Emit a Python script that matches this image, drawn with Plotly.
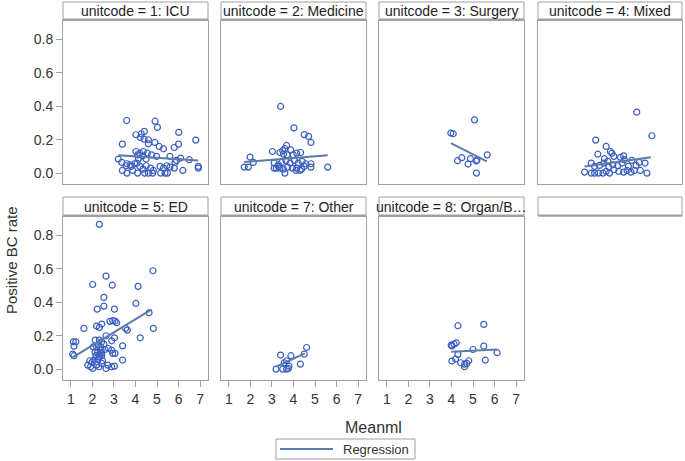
import plotly.graph_objects as go

# ── Data ─────────────────────────────────────────────────────────
panel_titles = ["unitcode = 1: ICU", "unitcode = 2: Medicine", "unitcode = 3: Surgery",
                "unitcode = 4: Mixed", "unitcode = 5: ED", "unitcode = 7: Other",
                "unitcode = 8: Organ/B…", ""]

icu_x = [3.59, 4.91, 5.02, 4.41, 4.27, 4.02, 6.01, 6.8, 3.39, 4.22, 4.4, 4.6, 4.6, 4.9, 5.1,
         5.3, 5.8, 6.0, 4.02, 4.2, 4.36, 4.55, 4.1, 4.33, 4.75, 4.98, 5.6, 6.1, 6.5, 3.2,
         3.36, 3.6, 3.75, 3.8, 3.96, 4.07, 4.2, 4.35, 4.5, 4.7, 4.83, 5.14, 5.3, 5.45, 5.6,
         5.8, 5.84, 5.9, 6.92, 6.92, 3.39, 3.6, 3.87, 4.1, 4.43, 4.6, 4.8, 5.17, 5.37, 5.48,
         6.2, 4.13, 4.49, 3.56]
icu_y = [0.314, 0.31, 0.273, 0.249, 0.235, 0.229, 0.243, 0.197, 0.173, 0.213, 0.203, 0.199,
         0.175, 0.183, 0.159, 0.145, 0.153, 0.173, 0.129, 0.119, 0.129, 0.119, 0.109, 0.103,
         0.109, 0.10, 0.10, 0.09, 0.08, 0.084, 0.064, 0.056, 0.05, 0.04, 0.056, 0.06, 0.04,
         0.024, 0.044, 0.03, 0.016, 0.04, 0.03, 0.044, 0.036, 0.03, 0.064, 0.076, 0.04, 0.03,
         0.016, 0.0, 0.016, 0.0, 0.0, 0.0, 0.0, 0.0, 0.0, 0.0, 0.016, 0.084, 0.084, 0.044]

med_x = [3.4, 4.02, 4.5, 4.7, 4.81, 3.68, 3.6, 3.5, 3.87, 3.02, 3.37, 3.7, 3.99, 4.15, 4.33,
         3.53, 1.98, 2.13, 1.71, 1.9, 3.1, 3.3, 3.45, 3.65, 3.84, 4.04, 4.22, 4.4, 4.57, 4.81,
         4.81, 5.59, 3.1, 3.2, 3.37, 3.53, 3.73, 3.95, 4.15, 4.3, 4.38, 4.5, 3.6, 4.12, 3.3]
med_y = [0.398, 0.27, 0.23, 0.219, 0.183, 0.165, 0.147, 0.135, 0.139, 0.129, 0.123, 0.109,
         0.109, 0.119, 0.123, 0.113, 0.096, 0.064, 0.036, 0.036, 0.06, 0.05, 0.064, 0.076,
         0.06, 0.076, 0.06, 0.07, 0.056, 0.056, 0.036, 0.036, 0.03, 0.03, 0.03, 0.024, 0.036,
         0.03, 0.03, 0.016, 0.024, 0.04, 0.0, 0.016, 0.04]

surg_x = [5.07, 3.97, 4.08, 5.66, 4.48, 4.28, 4.88, 5.18, 5.15, 4.77, 5.16]
surg_y = [0.318, 0.239, 0.235, 0.109, 0.092, 0.074, 0.086, 0.078, 0.072, 0.054, 0.0]

mixed_x = [5.25, 5.96, 3.33, 3.82, 4.02, 4.09, 3.43, 4.64, 4.49, 4.18, 3.74, 3.9, 4.67, 5.02,
           5.37, 5.64, 3.12, 3.28, 3.51, 3.71, 3.95, 4.13, 4.36, 4.57, 4.86, 5.22, 2.81, 3.12,
           3.28, 3.46, 3.67, 3.82, 3.98, 4.18, 4.41, 4.64, 4.8, 4.98, 5.14, 5.42, 5.73]
mixed_y = [0.364, 0.223, 0.197, 0.159, 0.129, 0.119, 0.113, 0.103, 0.094, 0.1, 0.086, 0.07,
           0.08, 0.076, 0.064, 0.06, 0.06, 0.04, 0.046, 0.06, 0.036, 0.05, 0.044, 0.06, 0.04,
           0.046, 0.006, 0.0, 0.0, 0.0, 0.0, 0.01, 0.0, 0.02, 0.01, 0.006, 0.016, 0.006, 0.016,
           0.016, 0.0]

ed_x = [2.32, 4.81, 2.63, 2.01, 2.92, 4.12, 2.53, 2.53, 2.22, 3.02, 4.02, 4.63, 2.81, 2.94,
        3.05, 3.12, 2.43, 2.19, 2.32, 1.6, 3.54, 3.62, 4.83, 2.63, 3.02, 4.22, 1.11, 1.23,
        1.14, 2.13, 2.32, 2.43, 2.89, 2.53, 2.04, 2.19, 2.38, 2.27, 2.4, 2.58, 2.74, 3.4,
        1.08, 1.14, 2.12, 2.24, 2.43, 2.94, 3.05, 2.89, 2.16, 2.32, 2.43, 2.07, 2.27, 2.47,
        1.88, 1.99, 3.4, 1.78, 1.91, 2.01, 2.19, 2.3, 2.43, 2.71, 2.89, 3.02, 2.63, 2.19, 2.35]
ed_y = [0.864, 0.587, 0.555, 0.505, 0.501, 0.494, 0.428, 0.376, 0.358, 0.358, 0.392, 0.336,
        0.285, 0.289, 0.287, 0.277, 0.269, 0.257, 0.249, 0.243, 0.243, 0.233, 0.243, 0.199,
        0.187, 0.187, 0.163, 0.163, 0.137, 0.173, 0.173, 0.163, 0.169, 0.149, 0.133, 0.133,
        0.133, 0.143, 0.113, 0.117, 0.123, 0.139, 0.09, 0.08, 0.1, 0.1, 0.094, 0.094, 0.094,
        0.113, 0.08, 0.074, 0.08, 0.054, 0.06, 0.05, 0.05, 0.044, 0.054, 0.024, 0.014, 0.004,
        0.024, 0.014, 0.034, 0.024, 0.014, 0.018, 0.004, 0.044, 0.094]

other_x = [4.61, 4.5, 3.4, 3.88, 3.68, 3.57, 3.79, 4.32, 3.19, 3.5, 3.68, 3.76]
other_y = [0.129, 0.09, 0.084, 0.08, 0.05, 0.038, 0.018, 0.03, 0.0, 0.0, 0.0, 0.004]

organ_x = [5.5, 4.3, 4.22, 4.12, 3.99, 4.02, 5.5, 5.0, 6.12, 4.3, 4.02, 4.19, 5.57, 4.43,
           4.61, 4.8, 4.71, 4.61]
organ_y = [0.267, 0.259, 0.157, 0.149, 0.143, 0.139, 0.137, 0.117, 0.098, 0.088, 0.048, 0.06,
           0.054, 0.038, 0.03, 0.05, 0.034, 0.014]

# regression line end points per panel
reg_x = [[3.2, 6.92], [1.71, 5.59], [3.97, 5.64], [2.81, 5.91], [1.14, 4.75], [3.19, 4.53], [3.99, 6.12]]
reg_y = [[0.107, 0.076], [0.066, 0.107], [0.179, 0.07], [0.04, 0.094], [0.074, 0.356], [0.014, 0.094], [0.103, 0.117]]

x_ticks = [1, 2, 3, 4, 5, 6, 7]
y_ticks = [0.0, 0.2, 0.4, 0.6, 0.8]

# ── Style ─────────────────────────────────────────────────────────
W, H = 685, 461
MARKER = "#3A5EC0"
REGLINE = "#5B7BA8"
BORDER = "#A0A0A0"
TEXT = "#333333"
FONT = "Liberation Sans"

# panel geometry in pixels: columns (left, right), rows (top, bottom, header top)
cols = [(63, 208), (221, 366), (379, 524), (538, 682)]
rows = [(21, 184, 2), (217, 380, 197)]

points = [(icu_x, icu_y), (med_x, med_y), (surg_x, surg_y), (mixed_x, mixed_y),
          (ed_x, ed_y), (other_x, other_y), (organ_x, organ_y)]

fig = go.Figure()
layout = dict(
    width=W, height=H,
    margin=dict(l=0, r=0, t=0, b=0),
    paper_bgcolor="white", plot_bgcolor="white",
    font=dict(family=FONT, color=TEXT, size=13),
    shapes=[], annotations=[], showlegend=False,
)

for i in range(8):
    r, c = divmod(i, 4)
    left, right = cols[c]
    top, bottom, htop = rows[r]
    sfx = "" if i == 0 else str(i + 1)
    xa, ya = "x" + sfx, "y" + sfx

    layout["xaxis" + sfx] = dict(
        domain=[left / W, right / W], range=[0.63, 7.37], anchor=ya,
        showgrid=False, zeroline=False, showline=True, mirror=True,
        linecolor=BORDER, linewidth=1,
        tickvals=x_ticks if r == 1 else [], ticks="outside" if r == 1 else "",
        ticklen=6, tickcolor=BORDER, showticklabels=(r == 1),
        tickfont=dict(size=14, color=TEXT),
    )
    layout["yaxis" + sfx] = dict(
        domain=[1 - bottom / H, 1 - top / H], range=[-0.065, 0.908], anchor=xa,
        showgrid=False, zeroline=False, showline=True, mirror=True,
        linecolor=BORDER, linewidth=1,
        tickvals=y_ticks if c == 0 else [], ticks="outside" if c == 0 else "",
        ticklen=6, tickcolor=BORDER, showticklabels=(c == 0), tickformat=".1f",
        tickfont=dict(size=14, color=TEXT),
    )

    # header strip
    layout["shapes"].append(dict(
        type="rect", xref="paper", yref="paper",
        x0=left / W, x1=right / W, y0=1 - (top - 1) / H, y1=1 - htop / H,
        line=dict(color=BORDER, width=1), fillcolor="white",
    ))
    layout["shapes"].append(dict(
        type="line", xref="paper", yref="paper",
        x0=left / W, x1=right / W, y0=1 - (top - 1.5) / H, y1=1 - (top - 1.5) / H,
        line=dict(color=BORDER, width=2),
    ))
    layout["annotations"].append(dict(
        text=panel_titles[i], xref="paper", yref="paper",
        x=(left + right) / 2 / W, y=1 - (htop + top - 1) / 2 / H,
        xanchor="center", yanchor="middle", showarrow=False,
        font=dict(size=14, color="#222222"),
    ))

    if i < 7:
        px, py = points[i]
        fig.add_trace(go.Scatter(
            x=px, y=py, mode="markers", xaxis=xa, yaxis=ya,
            marker=dict(symbol="circle-open", size=6, color=MARKER, line=dict(width=1.2)),
            hoverinfo="skip",
        ))
        fig.add_trace(go.Scatter(
            x=reg_x[i], y=reg_y[i], mode="lines", xaxis=xa, yaxis=ya,
            name="Regression", line=dict(color=REGLINE, width=2),
        ))

# axis titles
layout["annotations"].append(dict(
    text="Meanml", xref="paper", yref="paper", x=373 / W, y=1 - 427 / H,
    xanchor="center", yanchor="middle", showarrow=False, font=dict(size=16, color=TEXT),
))
layout["annotations"].append(dict(
    text="Positive BC rate", xref="paper", yref="paper", x=11 / W, y=1 - 260 / H,
    xanchor="center", yanchor="middle", showarrow=False, textangle=-90,
    font=dict(size=15, color=TEXT),
))

# legend box drawn by hand so it sits exactly like the reference
layout["shapes"].append(dict(
    type="rect", xref="paper", yref="paper",
    x0=276 / W, x1=415 / W, y0=1 - 459 / H, y1=1 - 439 / H,
    line=dict(color=BORDER, width=1), fillcolor="white",
))
layout["shapes"].append(dict(
    type="line", xref="paper", yref="paper",
    x0=280 / W, x1=333 / W, y0=1 - 449 / H, y1=1 - 449 / H,
    line=dict(color=REGLINE, width=2),
))
layout["annotations"].append(dict(
    text="Regression", xref="paper", yref="paper", x=341 / W, y=1 - 449 / H,
    xanchor="left", yanchor="middle", showarrow=False, font=dict(size=13, color=TEXT),
))

fig.update_layout(**layout)
# page body has a default 8px margin; drop it so the figure fills the window
fig.write_html("out.html", config={"displayModeBar": False},
               post_script="document.body.style.margin='0';")
